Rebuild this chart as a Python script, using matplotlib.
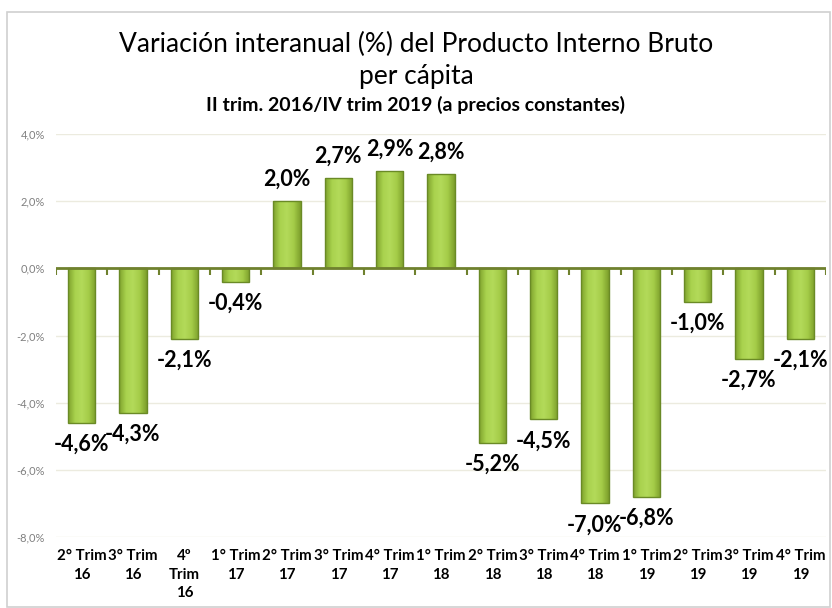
import numpy as np
import matplotlib
matplotlib.use("Agg")
import matplotlib.pyplot as plt
from matplotlib.patches import Rectangle
from matplotlib.colors import LinearSegmentedColormap

# Chart data
categories = ["2° Trim\n16", "3° Trim\n16", "4º\nTrim\n16", "1° Trim\n17",
              "2° Trim\n17", "3° Trim\n17", "4° Trim\n17", "1° Trim\n18",
              "2° Trim\n18", "3° Trim\n18", "4° Trim\n18", "1° Trim\n19",
              "2° Trim\n19", "3° Trim\n19", "4° Trim\n19"]
values = [-4.6, -4.3, -2.1, -0.4, 2.0, 2.7, 2.9, 2.8,
          -5.2, -4.5, -7.0, -6.8, -1.0, -2.7, -2.1]
y_ticks = [-8, -6, -4, -2, 0, 2, 4]

title = "Variación interanual (%) del Producto Interno Bruto\nper cápita"
subtitle = "II trim. 2016/IV trim 2019 (a precios constantes)"

plt.rcParams['font.family'] = ['Lato', 'DejaVu Sans']

fig = plt.figure(figsize=(8.32, 6.08), dpi=100)
fig.patch.set_facecolor('white')

# light grey frame round the chart
fig.patches.append(Rectangle((7 / 832, 0.002), 823 / 832, 1 - 12 / 608 - 0.002,
                             transform=fig.transFigure, fill=False,
                             edgecolor='#d0d0d0', linewidth=1.2))

ax = fig.add_axes([56 / 832, 1 - 537 / 608, 770 / 832, 403 / 608])

x = np.arange(len(values))
bars = ax.bar(x, values, width=0.53, color='none', edgecolor='#6a8a26',
              linewidth=1.0, zorder=4)

# horizontal gradient fill like the Excel bars
grad = LinearSegmentedColormap.from_list('g', ['#7ea12c', '#a9d24e', '#b3da5a', '#a4cc48', '#7c9e2b'])
gimg = np.linspace(0, 1, 64).reshape(1, -1)
for b in bars:
    x0, y0 = b.get_x(), b.get_y()
    w, h = b.get_width(), b.get_height()
    im = ax.imshow(gimg, cmap=grad, aspect='auto', zorder=3,
                   extent=(x0, x0 + w, min(y0, y0 + h), max(y0, y0 + h)))
    im.set_clip_path(b)

ax.set_xlim(-0.5, len(values) - 0.5)
ax.set_ylim(-8, 4)
ax.set_yticks(y_ticks)
ax.set_yticklabels([f"{v:.1f}%".replace('.', ',') for v in y_ticks],
                   fontsize=8, color='#808080')
ax.grid(axis='y', color='#ecebdf', linewidth=1, zorder=0)
ax.tick_params(axis='y', length=0, pad=8)

ax.set_xticks(x)
ax.set_xticklabels(categories, fontsize=10.8, fontweight='bold', linespacing=1.4)
ax.tick_params(axis='x', length=0, pad=9)

for s in ax.spines.values():
    s.set_visible(False)

# zero line with tick marks between categories
ax.axhline(0, color='#6f812e', linewidth=2, zorder=5)
bounds = np.arange(len(values) + 1) - 0.5
ax.vlines(bounds, -0.2, 0, color='#6f812e', linewidth=1.5, zorder=5)

# data labels
for xi, v in zip(x, values):
    txt = f"{v:.1f}%".replace('.', ',')
    if v >= 0:
        ax.annotate(txt, (xi, v), xytext=(0, 8), textcoords='offset points',
                    ha='center', va='bottom', fontsize=15.5, fontweight='bold')
    else:
        ax.annotate(txt, (xi, v), xytext=(0, -8), textcoords='offset points',
                    ha='center', va='top', fontsize=15.5, fontweight='bold')

fig.text(0.5, 1 - 60 / 608, title, ha='center', va='center', fontsize=19,
         linespacing=1.35)
fig.text(0.5, 1 - 105 / 608, subtitle, ha='center', va='center', fontsize=14,
         fontweight='bold')

fig.savefig("out.png", dpi=100)
